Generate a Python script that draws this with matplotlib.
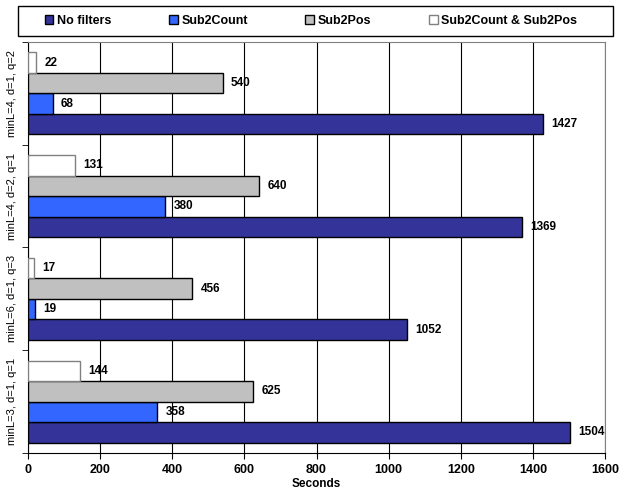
import matplotlib
matplotlib.use("Agg")
import matplotlib.pyplot as plt
from matplotlib.patches import Rectangle
import numpy as np

plt.rcParams['font.family'] = ['Liberation Sans', 'DejaVu Sans']

# groups listed bottom to top, as drawn
configs = ["minL=3, d=1, q=1", "minL=6, d=1, q=3", "minL=4, d=2, q=1", "minL=4, d=1, q=2"]
no_filters = [1504, 1052, 1369, 1427]
sub2count = [358, 19, 380, 68]
sub2pos = [625, 456, 640, 540]
both = [144, 17, 131, 22]

series = [
    ("No filters", no_filters, "#333399", "black"),
    ("Sub2Count", sub2count, "#3366FF", "black"),
    ("Sub2Pos", sub2pos, "#C0C0C0", "black"),
    ("Sub2Count & Sub2Pos", both, "white", "#808080"),
]

fig = plt.figure(figsize=(6.2, 4.9), dpi=100)
ax = fig.add_axes([28/620, 1-453/490, (605-28)/620, (453-42)/490])

y = np.arange(len(configs))
h = 0.2
handles = []
for k, (name, vals, col, ec) in enumerate(series):
    pos = y - 0.3 + k*h
    b = ax.barh(pos, vals, height=h, color=col, edgecolor=ec, linewidth=1, label=name, zorder=3)
    handles.append(b)
    for p, v in zip(pos, vals):
        ax.annotate(str(v), (v, p), xytext=(6, 0), textcoords="offset points",
                    va="center", ha="left", fontsize=8.5, fontweight="bold")

ax.set_xlim(0, 1600)
ax.set_ylim(-0.5, len(configs) - 0.5)
ax.set_xticks(np.arange(0, 1601, 200))
ax.set_xticklabels([str(t) for t in range(0, 1601, 200)], fontweight="bold", fontsize=9)
ax.xaxis.grid(True, color="black", linewidth=0.8, zorder=0)
ax.set_axisbelow(True)

ax.set_yticks(np.arange(-0.5, len(configs)), minor=True)
ax.set_yticks(y)
ax.set_yticklabels(configs, rotation=90, va="center", fontsize=8)
ax.tick_params(axis="y", which="major", length=0, pad=8)
ax.tick_params(axis="y", which="minor", length=4, direction="out")
ax.tick_params(axis="x", length=4, direction="out", pad=4)

ax.set_xlabel("Seconds", fontweight="bold", fontsize=8.5)
ax.xaxis.set_label_coords(0.5, -(477.5-453)/411)

for s in ["top", "right"]:
    ax.spines[s].set_color("#808080")

leg = fig.legend(handles=handles, loc="center", bbox_to_anchor=(311/620, 1-21/490),
                 ncol=4, frameon=False, prop={"weight": "bold", "size": 9},
                 handlelength=0.7, handleheight=0.7, handletextpad=0.3,
                 columnspacing=4.6)
fig.patches.append(Rectangle((18/620, 1-36/490), (613-18)/620, 30/490,
                             transform=fig.transFigure, fill=False,
                             edgecolor="black", linewidth=1))

fig.savefig("out.png", dpi=100)
